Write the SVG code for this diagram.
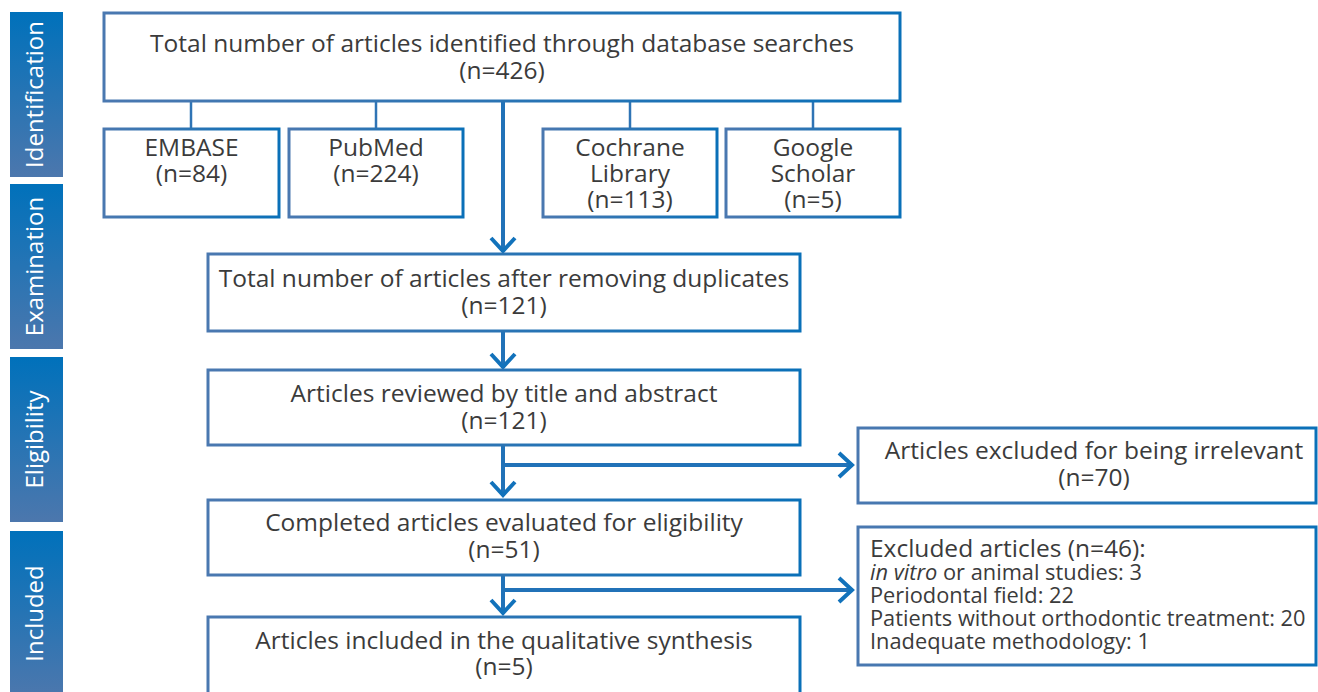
<svg xmlns="http://www.w3.org/2000/svg" width="1318" height="692" viewBox="0 0 1318 692">
<defs>
<linearGradient id="bar" x1="0" y1="0" x2="0" y2="1">
<stop offset="0" stop-color="#0071bb"/>
<stop offset="1" stop-color="#4c77ad"/>
</linearGradient>
<linearGradient id="edge" x1="0" y1="0" x2="1" y2="0">
<stop offset="0" stop-color="#4a78b0"/>
<stop offset="1" stop-color="#0a70b8"/>
</linearGradient>
</defs>
<style>
.bar{fill:url(#bar)}
.side{font-family:"Open Sans",Lato,sans-serif;font-size:24px;fill:#ffffff;text-anchor:middle}
.box{fill:#ffffff;stroke:url(#edge);stroke-width:3}
.t{font-family:"Open Sans",Lato,sans-serif;font-size:24.5px;fill:#3b3b3b;text-anchor:middle}
.l{font-family:"Open Sans",Lato,sans-serif;font-size:24.5px;fill:#3b3b3b}
.s{font-family:"Open Sans",Lato,sans-serif;font-size:21.8px;fill:#3b3b3b}
.thin{stroke:#2f74b5;stroke-width:2.5;fill:none}
.thick{stroke:#2172b8;stroke-width:4;fill:none}
.head{stroke:#1272bb;stroke-width:4;fill:none;stroke-linecap:butt;stroke-linejoin:miter}
</style>
<g id="stage-bars">
<g id="bar-identification"><rect class="bar" x="10" y="12" width="53" height="165"/><text class="side" transform="translate(43 94.5) rotate(-90)">Identification</text></g>
<g id="bar-examination"><rect class="bar" x="10" y="184" width="53" height="165"/><text class="side" transform="translate(43 266.5) rotate(-90)">Examination</text></g>
<g id="bar-eligibility"><rect class="bar" x="10" y="357" width="53" height="165"/><text class="side" transform="translate(43 439.5) rotate(-90)">Eligibility</text></g>
<g id="bar-included"><rect class="bar" x="10" y="531" width="53" height="165"/><text class="side" transform="translate(43 613.5) rotate(-90)">Included</text></g>
</g>
<g id="connectors">
<line class="thin" x1="191" y1="101" x2="191" y2="129"/>
<line class="thin" x1="376" y1="101" x2="376" y2="129"/>
<line class="thin" x1="630" y1="101" x2="630" y2="129"/>
<line class="thin" x1="813" y1="101" x2="813" y2="129"/>
<line class="thick" x1="503" y1="101" x2="503" y2="252"/>
<polyline class="head" points="491,238 503,251 515,238"/>
<line class="thick" x1="503" y1="331" x2="503" y2="368"/>
<polyline class="head" points="491,354 503,367 515,354"/>
<line class="thick" x1="503" y1="445" x2="503" y2="496"/>
<polyline class="head" points="491,482 503,495 515,482"/>
<line class="thick" x1="503" y1="465" x2="853" y2="465"/>
<polyline class="head" points="839,453 852,465 839,477"/>
<line class="thick" x1="503" y1="575" x2="503" y2="614"/>
<polyline class="head" points="491,600 503,613 515,600"/>
<line class="thick" x1="503" y1="590" x2="853" y2="590"/>
<polyline class="head" points="839,578 852,590 839,602"/>
</g>
<g id="node-total">
<rect class="box" x="104" y="13" width="796" height="88"/>
<text class="t" x="502" y="52">Total number of articles identified through database searches</text>
<text class="t" x="502" y="79">(n=426)</text>
</g>
<g id="node-embase">
<rect class="box" x="104" y="129" width="175" height="88"/>
<text class="t" x="191.5" y="156">EMBASE</text>
<text class="t" x="191.5" y="182">(n=84)</text>
</g>
<g id="node-pubmed">
<rect class="box" x="289" y="129" width="174" height="88"/>
<text class="t" x="376" y="156">PubMed</text>
<text class="t" x="376" y="182">(n=224)</text>
</g>
<g id="node-cochrane">
<rect class="box" x="543" y="129" width="174" height="88"/>
<text class="t" x="630" y="156">Cochrane</text>
<text class="t" x="630" y="182">Library</text>
<text class="t" x="630" y="208">(n=113)</text>
</g>
<g id="node-google">
<rect class="box" x="726" y="129" width="174" height="88"/>
<text class="t" x="813" y="156">Google</text>
<text class="t" x="813" y="182">Scholar</text>
<text class="t" x="813" y="208">(n=5)</text>
</g>
<g id="node-duplicates">
<rect class="box" x="208" y="254" width="592" height="77"/>
<text class="t" x="504" y="287">Total number of articles after removing duplicates</text>
<text class="t" x="504" y="314">(n=121)</text>
</g>
<g id="node-reviewed">
<rect class="box" x="208" y="370" width="592" height="75"/>
<text class="t" x="504" y="402">Articles reviewed by title and abstract</text>
<text class="t" x="504" y="429">(n=121)</text>
</g>
<g id="node-irrelevant">
<rect class="box" x="858" y="428" width="458" height="75"/>
<text class="t" x="1094" y="459">Articles excluded for being irrelevant</text>
<text class="t" x="1094" y="486">(n=70)</text>
</g>
<g id="node-eligibility">
<rect class="box" x="208" y="500" width="592" height="75"/>
<text class="t" x="504" y="531">Completed articles evaluated for eligibility</text>
<text class="t" x="504" y="558">(n=51)</text>
</g>
<g id="node-excluded">
<rect class="box" x="858" y="527" width="458" height="138"/>
<text class="l" x="870" y="557">Excluded articles (n=46):</text>
<text class="s" x="870" y="580"><tspan font-style="italic">in vitro</tspan> or animal studies: 3</text>
<text class="s" x="870" y="603">Periodontal field: 22</text>
<text class="s" x="870" y="626">Patients without orthodontic treatment: 20</text>
<text class="s" x="870" y="649">Inadequate methodology: 1</text>
</g>
<g id="node-included">
<rect class="box" x="208" y="617" width="592" height="80"/>
<text class="t" x="504" y="649">Articles included in the qualitative synthesis</text>
<text class="t" x="504" y="675">(n=5)</text>
</g>
</svg>
